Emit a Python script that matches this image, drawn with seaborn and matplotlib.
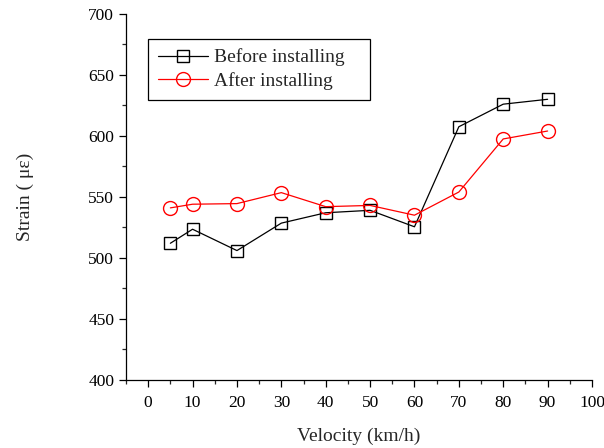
import matplotlib
matplotlib.use("Agg")
import matplotlib.pyplot as plt
import seaborn as sns
import pandas as pd
from matplotlib.ticker import MultipleLocator

velocity = [5, 10, 20, 30, 40, 50, 60, 70, 80, 90]
before = [512, 523.5, 506, 528.5, 537, 539, 525.5, 607.5, 626, 630]
after = [541, 544, 544.5, 553.5, 542, 543, 535, 554, 597.5, 604]
x_ticks = list(range(0, 101, 10))
y_ticks = list(range(400, 701, 50))

sns.set_theme(style="ticks")
plt.rcParams['font.family'] = ['Liberation Serif', 'DejaVu Serif']
plt.rcParams['mathtext.fontset'] = 'stix'

fig = plt.figure(figsize=(6.04, 4.48), dpi=100)
ax = fig.add_axes([0.2086, 0.152, 0.7715, 0.817])

df_b = pd.DataFrame({"v": velocity, "s": before})
df_a = pd.DataFrame({"v": velocity, "s": after})

sns.lineplot(data=df_b, x="v", y="s", ax=ax, color="black", lw=0.9,
             marker="s", markersize=9, markerfacecolor="none",
             markeredgecolor="black", markeredgewidth=1.0,
             label="Before installing")
sns.lineplot(data=df_a, x="v", y="s", ax=ax, color="red", lw=0.9,
             marker="o", markersize=10, markerfacecolor="none",
             markeredgecolor="red", markeredgewidth=1.0,
             label="After installing")

ax.set_xlim(-5, 100)
ax.set_ylim(400, 700)
ax.set_xticks(x_ticks)
ax.set_yticks(y_ticks)
ax.xaxis.set_minor_locator(MultipleLocator(5))
ax.yaxis.set_minor_locator(MultipleLocator(25))
ax.tick_params(which="major", direction="out", length=5, width=0.9, labelsize=12.5, colors="black")
ax.tick_params(axis="x", which="major", pad=6)
ax.tick_params(which="minor", direction="out", length=3, width=0.9)
for s in ["top", "right"]:
    ax.spines[s].set_visible(False)
for s in ["left", "bottom"]:
    ax.spines[s].set_color("black")
    ax.spines[s].set_linewidth(0.9)

ax.set_xlabel("Velocity (km/h)", fontsize=14, labelpad=12)
ax.set_ylabel("Strain ( με)", fontsize=14, labelpad=39)

leg = ax.legend(loc="upper left", bbox_to_anchor=(0.047, 0.932, 0.477, 0.0),
                mode="expand", fontsize=14,
                frameon=True, fancybox=False, edgecolor="black",
                handlelength=2.6, handletextpad=0.3, borderpad=0.5,
                labelspacing=0.3, borderaxespad=0)
leg.get_frame().set_linewidth(0.9)
leg.get_frame().set_alpha(1)

fig.savefig("out.png", dpi=100)
